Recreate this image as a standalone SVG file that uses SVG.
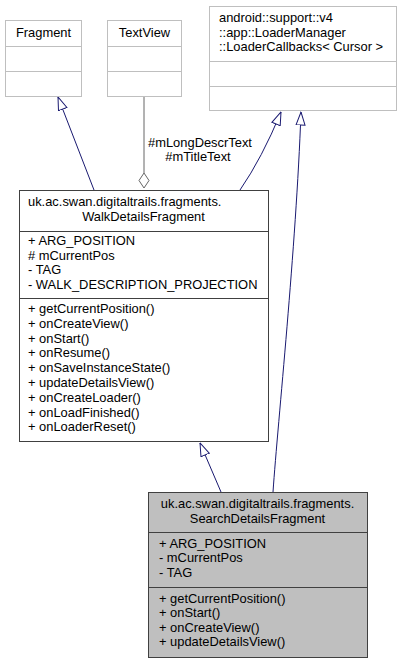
<svg xmlns="http://www.w3.org/2000/svg" width="402" height="663" viewBox="0 0 402 663">
<style>
text{font-family:"Liberation Sans",Arial,sans-serif;font-size:12.9px;fill:#000}
.mid{text-anchor:middle}
.ext rect,.ext line{stroke:#bfbfbf;fill:#fff;stroke-width:1}
.cls rect{stroke:#404040;fill:#fff;stroke-width:1}
.cls line{stroke:#404040;stroke-width:1}
.cur rect{fill:#bfbfbf}
.edge{fill:none;stroke:#191970;stroke-width:1}
.agg{fill:none;stroke:#666;stroke-width:1}
</style>
<defs>
<marker id="inh" viewBox="0 0 14 11" refX="13.5" refY="5.5" markerWidth="14" markerHeight="11" markerUnits="userSpaceOnUse" orient="auto">
<path d="M0.5,1 L13.5,5.5 L0.5,10 Z" fill="#fff" stroke="#191970" stroke-width="1"/>
</marker>
</defs>
<rect width="402" height="663" fill="#fff"/>
<g id="connectors">
<path class="edge" d="M94,190 L58,97" marker-end="url(#inh)"/>
<path class="agg" d="M144,97 L144,173"/>
<polygon points="144,173 149,180.5 144,188 139,180.5" fill="#fff" stroke="#666"/>
<text class="mid" x="200" y="147">#mLongDescrText</text>
<text class="mid" x="198" y="161">#mTitleText</text>
<path class="edge" d="M240,190 Q262,158 281,112" marker-end="url(#inh)"/>
<path class="edge" d="M273,492 C278,420 296,250 301,112" marker-end="url(#inh)"/>
<path class="edge" d="M221,492 L200,443" marker-end="url(#inh)"/>
</g>
<g id="Fragment" class="ext">
<rect x="5.5" y="20.5" width="76" height="76"/>
<line x1="5.5" y1="46.5" x2="81.5" y2="46.5"/>
<line x1="5.5" y1="71.5" x2="81.5" y2="71.5"/>
<text class="mid" x="43.5" y="37">Fragment</text>
</g>
<g id="TextView" class="ext">
<rect x="107.5" y="20.5" width="74" height="76"/>
<line x1="107.5" y1="46.5" x2="181.5" y2="46.5"/>
<line x1="107.5" y1="71.5" x2="181.5" y2="71.5"/>
<text class="mid" x="144.5" y="37">TextView</text>
</g>
<g id="LoaderCallbacks" class="ext">
<rect x="209.5" y="6.5" width="187" height="104"/>
<line x1="209.5" y1="61.5" x2="396.5" y2="61.5"/>
<line x1="209.5" y1="86.5" x2="396.5" y2="86.5"/>
<text x="219" y="22">android::support::v4</text>
<text x="219" y="37">::app::LoaderManager</text>
<text x="219" y="51">::LoaderCallbacks&lt; Cursor &gt;</text>
</g>
<g id="WalkDetailsFragment" class="cls">
<rect x="19.5" y="190.5" width="249" height="251"/>
<line x1="19.5" y1="231.5" x2="268.5" y2="231.5"/>
<line x1="19.5" y1="298.5" x2="268.5" y2="298.5"/>
<text x="28" y="206">uk.ac.swan.digitaltrails.fragments.</text>
<text class="mid" x="143.5" y="221">WalkDetailsFragment</text>
<text x="28" y="245">+ ARG_POSITION</text>
<text x="28" y="260"># mCurrentPos</text>
<text x="28" y="274">- TAG</text>
<text x="28" y="289">- WALK_DESCRIPTION_PROJECTION</text>
<text x="28" y="313">+ getCurrentPosition()</text>
<text x="28" y="328">+ onCreateView()</text>
<text x="28" y="343">+ onStart()</text>
<text x="28" y="357">+ onResume()</text>
<text x="28" y="372">+ onSaveInstanceState()</text>
<text x="28" y="387">+ updateDetailsView()</text>
<text x="28" y="402">+ onCreateLoader()</text>
<text x="28" y="417">+ onLoadFinished()</text>
<text x="28" y="431">+ onLoaderReset()</text>
</g>
<g id="SearchDetailsFragment" class="cls cur">
<rect x="148.5" y="492.5" width="219" height="165"/>
<line x1="148.5" y1="532.5" x2="367.5" y2="532.5"/>
<line x1="148.5" y1="587.5" x2="367.5" y2="587.5"/>
<text class="mid" x="257.5" y="508">uk.ac.swan.digitaltrails.fragments.</text>
<text class="mid" x="257.5" y="523">SearchDetailsFragment</text>
<text x="159" y="548">+ ARG_POSITION</text>
<text x="159" y="562">- mCurrentPos</text>
<text x="159" y="577">- TAG</text>
<text x="159" y="603">+ getCurrentPosition()</text>
<text x="159" y="617">+ onStart()</text>
<text x="159" y="632">+ onCreateView()</text>
<text x="159" y="646">+ updateDetailsView()</text>
</g>
</svg>
